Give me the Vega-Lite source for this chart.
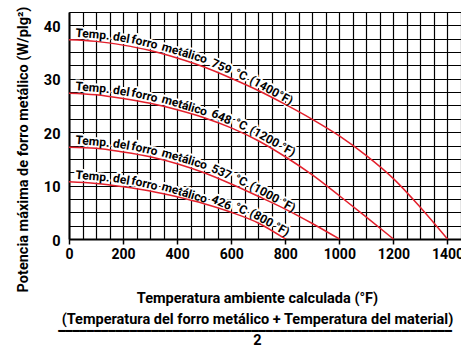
{
  "$schema": "https://vega.github.io/schema/vega-lite/v6.json",
  "width": 392,
  "height": 227,
  "autosize": "none",
  "padding": {"left": 69, "top": 12, "right": 0, "bottom": 107},
  "background": "white",
  "config": {"view": {"stroke": null}, "font": "Roboto"},
  "title": {
    "text": "━━━━━━━━━━━━━━━━━━━━━━━━━━━━━━━━━━━━━━━━━━━━━━━━━━━━━━━",
    "orient": "bottom",
    "anchor": "middle",
    "font": "DejaVu Sans Mono",
    "fontSize": 11.9,
    "fontWeight": "normal",
    "color": "black",
    "offset": -21,
    "dx": -10
  },
  "datasets": {
    "curves": [
      {"t": "1400", "x": 0, "y": 37.3}, {"t": "1400", "x": 100, "y": 37.0}, {"t": "1400", "x": 200, "y": 36.3}, {"t": "1400", "x": 300, "y": 35.3}, {"t": "1400", "x": 400, "y": 33.9}, {"t": "1400", "x": 500, "y": 32.2}, {"t": "1400", "x": 600, "y": 30.1}, {"t": "1400", "x": 700, "y": 27.8}, {"t": "1400", "x": 800, "y": 25.2}, {"t": "1400", "x": 900, "y": 22.4}, {"t": "1400", "x": 1000, "y": 19.3}, {"t": "1400", "x": 1100, "y": 15.6}, {"t": "1400", "x": 1200, "y": 11.3}, {"t": "1400", "x": 1300, "y": 5.9}, {"t": "1400", "x": 1400, "y": 0},
      {"t": "1200", "x": 0, "y": 27.3}, {"t": "1200", "x": 100, "y": 27.0}, {"t": "1200", "x": 200, "y": 26.3}, {"t": "1200", "x": 300, "y": 25.4}, {"t": "1200", "x": 400, "y": 24.2}, {"t": "1200", "x": 500, "y": 22.7}, {"t": "1200", "x": 600, "y": 20.8}, {"t": "1200", "x": 700, "y": 18.4}, {"t": "1200", "x": 800, "y": 15.4}, {"t": "1200", "x": 900, "y": 12.0}, {"t": "1200", "x": 1000, "y": 8.1}, {"t": "1200", "x": 1100, "y": 4.1}, {"t": "1200", "x": 1200, "y": 0},
      {"t": "1000", "x": 0, "y": 17.2}, {"t": "1000", "x": 100, "y": 17.0}, {"t": "1000", "x": 200, "y": 16.3}, {"t": "1000", "x": 300, "y": 15.4}, {"t": "1000", "x": 400, "y": 14.1}, {"t": "1000", "x": 500, "y": 12.4}, {"t": "1000", "x": 600, "y": 10.3}, {"t": "1000", "x": 700, "y": 8.0}, {"t": "1000", "x": 800, "y": 5.6}, {"t": "1000", "x": 900, "y": 2.9}, {"t": "1000", "x": 1000, "y": 0},
      {"t": "800", "x": 0, "y": 10.7}, {"t": "800", "x": 100, "y": 10.4}, {"t": "800", "x": 200, "y": 9.8}, {"t": "800", "x": 300, "y": 9.0}, {"t": "800", "x": 400, "y": 7.9}, {"t": "800", "x": 500, "y": 6.6}, {"t": "800", "x": 600, "y": 5.0}, {"t": "800", "x": 700, "y": 3.0}, {"t": "800", "x": 800, "y": 0}
    ],
    "labels": [
      {"t": "1400", "w": "Temp.", "x": 22, "y": 37.23}, {"t": "1400", "w": "del", "x": 159, "y": 36.59}, {"t": "1400", "w": "forro", "x": 226, "y": 36.04}, {"t": "1400", "w": "metálico", "x": 337, "y": 34.78}, {"t": "1400", "w": "759", "x": 518, "y": 31.8}, {"t": "1400", "w": "°C", "x": 603, "y": 30.03}, {"t": "1400", "w": "(1400°F)", "x": 659, "y": 28.74},
      {"t": "1200", "w": "Temp.", "x": 22, "y": 27.23}, {"t": "1200", "w": "del", "x": 159, "y": 26.59}, {"t": "1200", "w": "forro", "x": 226, "y": 26.07}, {"t": "1200", "w": "metálico", "x": 337, "y": 24.96}, {"t": "1200", "w": "648", "x": 518, "y": 22.36}, {"t": "1200", "w": "°C", "x": 603, "y": 20.73}, {"t": "1200", "w": "(1200 °F)", "x": 659, "y": 19.38},
      {"t": "1000", "w": "Temp.", "x": 22, "y": 17.16}, {"t": "1000", "w": "del", "x": 159, "y": 16.59}, {"t": "1000", "w": "forro", "x": 226, "y": 16.07}, {"t": "1000", "w": "metálico", "x": 337, "y": 14.92}, {"t": "1000", "w": "537", "x": 518, "y": 12.02}, {"t": "1000", "w": "°C", "x": 603, "y": 10.23}, {"t": "1000", "w": "(1000 °F)", "x": 659, "y": 8.94},
      {"t": "800", "w": "Temp.", "x": 22, "y": 10.63}, {"t": "800", "w": "del", "x": 159, "y": 10.05}, {"t": "800", "w": "forro", "x": 226, "y": 9.59}, {"t": "800", "w": "metálico", "x": 337, "y": 8.59}, {"t": "800", "w": "426", "x": 518, "y": 6.31}, {"t": "800", "w": "°C", "x": 603, "y": 4.94}, {"t": "800", "w": "(800 °F)", "x": 659, "y": 3.82}
    ]
  },
  "encoding": {
    "x": {
      "field": "x", "type": "quantitative",
      "scale": {"domain": [0, 1450], "nice": false, "zero": false},
      "axis": {
        "values": [0, 50, 100, 150, 200, 250, 300, 350, 400, 450, 500, 550, 600, 650, 700, 750, 800, 850, 900, 950, 1000, 1050, 1100, 1150, 1200, 1250, 1300, 1350, 1400, 1450],
        "format": "d",
        "grid": true, "gridColor": "#000000", "gridWidth": 1.2, "gridOpacity": 1,
        "domainColor": "black", "domainWidth": 2,
        "tickColor": "black", "tickWidth": 1.5, "tickSize": 5,
        "tickOpacity": {"condition": {"test": "datum.value % 200 === 0", "value": 1}, "value": 0},
        "labelExpr": "datum.value % 200 === 0 ? datum.label : ''",
        "labelFont": "Roboto", "labelFontSize": 14, "labelFontWeight": "bold", "labelColor": "black",
        "labelPadding": 3, "labelFlush": false, "labelOverlap": false,
        "title": ["Temperatura ambiente calculada (°F)", "(Temperatura del forro metálico + Temperatura del material)", "2"],
        "titleFont": "Roboto", "titleFontSize": 14.5, "titleFontWeight": "bold", "titleColor": "black",
        "titleLineHeight": 21, "titleX": 188, "titleY": 63, "titleBaseline": "alphabetic", "titleAlign": "center"
      }
    },
    "y": {
      "field": "y", "type": "quantitative",
      "scale": {"domain": [0, 42.5], "nice": false, "zero": true},
      "axis": {
        "values": [0, 2.5, 5, 7.5, 10, 12.5, 15, 17.5, 20, 22.5, 25, 27.5, 30, 32.5, 35, 37.5, 40, 42.5],
        "grid": true, "gridColor": "#000000", "gridWidth": 1.2, "gridOpacity": 1,
        "domainColor": "black", "domainWidth": 2,
        "ticks": false,
        "labelExpr": "datum.value % 10 === 0 ? datum.value : ''",
        "labelFont": "Roboto", "labelFontSize": 14.5, "labelFontWeight": "bold", "labelColor": "black",
        "labelPadding": 9, "labelOffset": 2, "labelOverlap": false,
        "title": "Potencia máxima de forro metálico (W/plg²)",
        "titleFont": "Roboto", "titleFontSize": 14.5, "titleFontWeight": "bold", "titleColor": "black",
        "titleX": -42, "titleY": 137, "titleAngle": -90, "titleBaseline": "alphabetic", "titleAlign": "center"
      }
    }
  },
  "layer": [
    {
      "data": {"name": "labels"},
      "transform": [{"calculate": "4 + 0.038 * datum.x", "as": "ang"}],
      "mark": {"type": "text", "align": "left", "baseline": "alphabetic", "dy": -3.5, "font": "Roboto", "fontSize": 12, "fontWeight": "bold", "color": "white", "stroke": "white", "strokeWidth": 4, "strokeJoin": "round"},
      "encoding": {
        "text": {"field": "w"},
        "angle": {"field": "ang", "type": "quantitative", "scale": null}
      }
    },
    {
      "data": {"name": "curves"},
      "mark": {"type": "line", "color": "#e3202c", "strokeWidth": 1.5, "interpolate": "monotone"},
      "encoding": {
        "detail": {"field": "t"}
      }
    },
    {
      "data": {"name": "labels"},
      "transform": [{"calculate": "4 + 0.038 * datum.x", "as": "ang"}],
      "mark": {"type": "text", "align": "left", "baseline": "alphabetic", "dy": -3.5, "font": "Roboto", "fontSize": 12, "fontWeight": "bold", "color": "black"},
      "encoding": {
        "text": {"field": "w"},
        "angle": {"field": "ang", "type": "quantitative", "scale": null}
      }
    }
  ]
}
